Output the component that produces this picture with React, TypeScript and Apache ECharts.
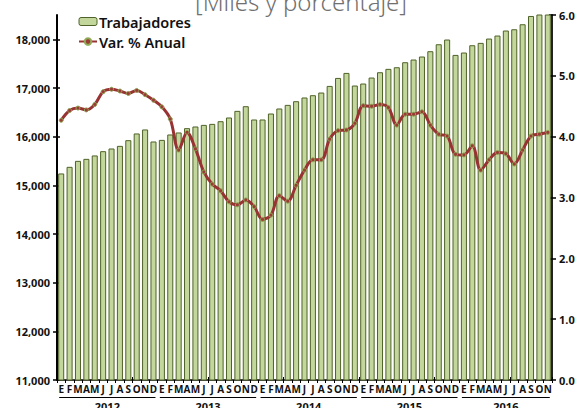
import React, { useEffect, useRef } from "react";
import * as echarts from "echarts";

const years = ["2012", "2013", "2014", "2015", "2016"];
const monthLetters = ["E", "F", "M", "A", "M", "J", "J", "A", "S", "O", "N", "D"];
const monthsPerYear = [12, 12, 12, 12, 11];

const trabajadores = [
  15244, 15380, 15503, 15544, 15614, 15702, 15757, 15811, 15928, 16066, 16148, 15901,
  15934, 16045, 16086, 16175, 16209, 16242, 16263, 16318, 16394, 16530, 16626, 16353,
  16353, 16476, 16579, 16653, 16729, 16805, 16852, 16907, 17043, 17207, 17310, 17051,
  17092, 17215, 17324, 17393, 17427, 17530, 17585, 17647, 17756, 17899, 17996, 17680,
  17729, 17879, 17927, 18016, 18078, 18181, 18207, 18310, 18480, 18560, 18640,
];

const varAnual = [
  4.27, 4.43, 4.47, 4.44, 4.53, 4.74, 4.78, 4.75, 4.71, 4.76, 4.69, 4.6,
  4.49, 4.29, 3.78, 4.07, 3.8, 3.42, 3.22, 3.11, 2.93, 2.88, 2.96, 2.85,
  2.64, 2.71, 3.03, 2.94, 3.2, 3.45, 3.62, 3.62, 3.96, 4.1, 4.11, 4.22,
  4.51, 4.5, 4.53, 4.48, 4.19, 4.37, 4.37, 4.41, 4.19, 4.04, 4.01, 3.71,
  3.7, 3.85, 3.45, 3.62, 3.74, 3.72, 3.55, 3.78, 4.01, 4.04, 4.07,
];

const leftTicks = [11000, 12000, 13000, 14000, 15000, 16000, 17000, 18000];

const categories: string[] = [];
years.forEach((y, yi) => {
  for (let m = 0; m < monthsPerYear[yi]; m++) categories.push(monthLetters[m] + "-" + y + "-" + m);
});

const FONT = "'Noto Sans', sans-serif";

export default function App() {
  const ref = useRef<HTMLDivElement>(null);
  useEffect(() => {
    if (!ref.current) return;
    const chart = echarts.init(ref.current, null, { renderer: "svg" });
    const grid = { left: 57, right: 27, top: 15, bottom: 28 };
    chart.setOption({
      animation: false,
      backgroundColor: "#ffffff",
      textStyle: { fontFamily: FONT },
      grid,
      legend: {
        orient: "vertical",
        left: 78,
        top: 14,
        padding: 0,
        itemWidth: 18,
        itemHeight: 8,
        itemGap: 5,
        textStyle: { fontFamily: FONT, fontSize: 14.5, fontWeight: 600, color: "#111", padding: [0, 0, 0, -3] },
        data: [
          { name: "Trabajadores", itemStyle: { color: "#c3d69b", borderColor: "#4f6228", borderWidth: 1 } },
          { name: "Var. % Anual" },
        ],
      },
      xAxis: [
        {
          type: "category",
          data: categories,
          axisLine: { lineStyle: { color: "#000", width: 1.5 } },
          axisTick: { show: true, length: 3, lineStyle: { color: "#000" } },
          axisLabel: {
            interval: 0,
            margin: 4,
            fontSize: 10,
            fontWeight: 700,
            color: "#111",
            formatter: (v: string) => v.split("-")[0],
          },
        },
        {
          type: "category",
          data: categories,
          position: "bottom",
          axisLine: { show: false },
          axisTick: { show: true, inside: true, length: 3, lineStyle: { color: "#000" } },
          axisLabel: { show: false },
        },
      ],
      yAxis: [
        {
          type: "value",
          min: 11000,
          max: 18500,
          interval: 1000,
          splitLine: { show: false },
          axisLine: { show: true, lineStyle: { color: "#000", width: 2 } },
          axisTick: { show: true, length: 4, customValues: leftTicks, lineStyle: { color: "#000", width: 1.5 } },
          axisLabel: {
            margin: 7,
            fontSize: 11,
            fontWeight: 700,
            color: "#111",
            customValues: leftTicks,
            formatter: (v: number) => v.toLocaleString("en-US"),
          },
        },
        {
          type: "value",
          min: 0,
          max: 6,
          interval: 1,
          position: "right",
          splitLine: { show: false },
          axisLine: { show: true, lineStyle: { color: "#222", width: 2 } },
          axisTick: { show: true, length: 4, lineStyle: { color: "#000", width: 1.5 } },
          axisLabel: {
            margin: 7,
            fontSize: 11,
            fontWeight: 700,
            color: "#111",
            formatter: (v: number) => v.toFixed(1),
          },
        },
        {
          type: "value",
          min: 11000,
          max: 18500,
          interval: 1000,
          position: "left",
          splitLine: { show: false },
          axisLine: { show: false },
          axisTick: { show: true, inside: true, length: 3, customValues: leftTicks, lineStyle: { color: "#000", width: 1.5 } },
          axisLabel: { show: false },
        },
        {
          type: "value",
          min: 0,
          max: 6,
          interval: 1,
          position: "right",
          splitLine: { show: false },
          axisLine: { show: false },
          axisTick: { show: true, inside: true, length: 3, lineStyle: { color: "#000", width: 1.5 } },
          axisLabel: { show: false },
        },
      ],
      series: [
        {
          name: "Trabajadores",
          type: "bar",
          data: trabajadores,
          xAxisIndex: 0,
          yAxisIndex: 0,
          barCategoryGap: "28%",
          clip: true,
          itemStyle: { color: "#c3d69b", borderColor: "#4f6228", borderWidth: 1 },
        },
        {
          name: "Var. % Anual",
          type: "line",
          data: varAnual,
          xAxisIndex: 0,
          yAxisIndex: 1,
          smooth: 0.35,
          symbol: "circle",
          symbolSize: 4,
          lineStyle: { color: "#993333", width: 3 },
          itemStyle: { color: "#9b3b36", borderColor: "#8fa955", borderWidth: 1 },
        },
      ],
    });

    const graphics: any[] = [
      {
        type: "text",
        x: 301,
        y: 13,
        style: {
          text: "[Miles y porcentaje]",
          fontSize: 24,
          fontFamily: FONT,
          fontWeight: 300,
          fill: "#707070",
          align: "center",
          verticalAlign: "bottom",
        },
      },
    ];
    let start = 0;
    years.forEach((y, yi) => {
      const n = monthsPerYear[yi];
      const x0 = chart.convertToPixel({ xAxisIndex: 0 }, start) as number;
      const x1 = chart.convertToPixel({ xAxisIndex: 0 }, start + n - 1) as number;
      graphics.push({
        type: "line",
        shape: { x1: x0 - 2, y1: 397.5, x2: x1 + 2, y2: 397.5 },
        style: { stroke: "#000", lineWidth: 1 },
      });
      graphics.push({
        type: "text",
        x: (x0 + x1) / 2,
        y: 401,
        style: {
          text: y,
          fontSize: 11,
          fontWeight: 700,
          fontFamily: FONT,
          fill: "#111",
          align: "center",
          verticalAlign: "top",
        },
      });
      start += n;
    });
    chart.setOption({ graphic: graphics });

    return () => chart.dispose();
  }, []);
  return <div ref={ref} style={{ position: "fixed", left: 0, top: 0, width: 579, height: 408 }} />;
}
